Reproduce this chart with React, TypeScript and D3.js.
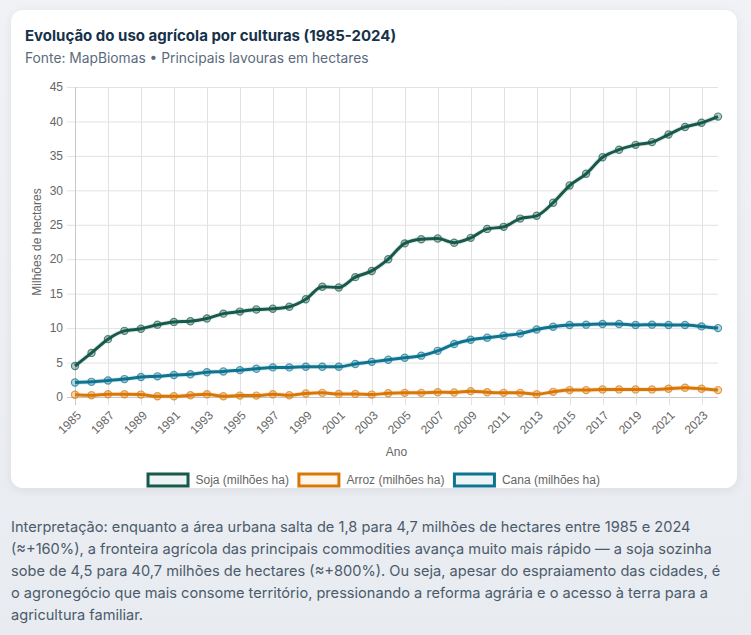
import React, { useEffect, useRef } from 'react';
import * as d3 from 'd3';

const anos = [
  1985, 1986, 1987, 1988, 1989, 1990, 1991, 1992, 1993, 1994,
  1995, 1996, 1997, 1998, 1999, 2000, 2001, 2002, 2003, 2004,
  2005, 2006, 2007, 2008, 2009, 2010, 2011, 2012, 2013, 2014,
  2015, 2016, 2017, 2018, 2019, 2020, 2021, 2022, 2023, 2024,
];

const soja = [
  4.5, 6.4, 8.4, 9.6, 9.9, 10.5, 10.9, 11.0, 11.4, 12.1,
  12.4, 12.7, 12.8, 13.1, 14.2, 16.0, 15.9, 17.4, 18.3, 20.0,
  22.3, 22.9, 23.0, 22.4, 23.1, 24.4, 24.7, 25.9, 26.3, 28.2,
  30.7, 32.4, 34.8, 35.9, 36.6, 37.0, 38.1, 39.2, 39.8, 40.7,
];

const arroz = [
  0.33, 0.25, 0.4, 0.4, 0.35, 0.1, 0.1, 0.25, 0.4, 0.1,
  0.2, 0.2, 0.4, 0.25, 0.5, 0.6, 0.45, 0.45, 0.35, 0.55,
  0.6, 0.6, 0.7, 0.65, 0.85, 0.7, 0.6, 0.6, 0.4, 0.75,
  1.0, 1.0, 1.1, 1.1, 1.1, 1.1, 1.2, 1.35, 1.2, 1.0,
];

const cana = [
  2.1, 2.2, 2.4, 2.6, 2.9, 3.0, 3.2, 3.3, 3.6, 3.7,
  3.9, 4.1, 4.3, 4.3, 4.4, 4.4, 4.4, 4.8, 5.1, 5.4,
  5.7, 6.0, 6.7, 7.7, 8.3, 8.6, 8.9, 9.2, 9.8, 10.2,
  10.45, 10.5, 10.6, 10.6, 10.45, 10.5, 10.45, 10.45, 10.25, 10.0,
];

const yTicks = [0, 5, 10, 15, 20, 25, 30, 35, 40, 45];
const xTicks = [
  1985, 1987, 1989, 1991, 1993, 1995, 1997, 1999, 2001, 2003,
  2005, 2007, 2009, 2011, 2013, 2015, 2017, 2019, 2021, 2023,
];

const series = [
  { nome: 'Soja (milhões ha)', valores: soja, cor: '#17594b', fundo: '#eef4f3' },
  { nome: 'Arroz (milhões ha)', valores: arroz, cor: '#d97706', fundo: '#fdf6ee' },
  { nome: 'Cana (milhões ha)', valores: cana, cor: '#0e7490', fundo: '#edf4f6' },
];

const titulo = 'Evolução do uso agrícola por culturas (1985-2024)';
const subtitulo = 'Fonte: MapBiomas • Principais lavouras em hectares';
const interpretacao = [
  'Interpretação: enquanto a área urbana salta de 1,8 para 4,7 milhões de hectares entre 1985 e 2024',
  '(≈+160%), a fronteira agrícola das principais commodities avança muito mais rápido — a soja sozinha',
  'sobe de 4,5 para 40,7 milhões de hectares (≈+800%). Ou seja, apesar do espraiamento das cidades, é',
  'o agronegócio que mais consome território, pressionando a reforma agrária e o acesso à terra para a',
  'agricultura familiar.',
];

const W = 751;
const H = 635;
const margem = { left: 75, right: 718, top: 87, bottom: 397 };
const fonteEixo = 'Liberation Sans, Arial, Helvetica, sans-serif';
const fonteUI = 'Inter, "Noto Sans", sans-serif';

export default function App() {
  const ref = useRef<SVGSVGElement>(null);

  useEffect(() => {
    const svg = d3.select(ref.current);
    svg.selectAll('*').remove();

    const defs = svg.append('defs');
    const grad = defs.append('linearGradient').attr('id', 'bg').attr('x1', 0).attr('y1', 0).attr('x2', 0).attr('y2', 1);
    grad.append('stop').attr('offset', '0%').attr('stop-color', '#f1f2f5');
    grad.append('stop').attr('offset', '100%').attr('stop-color', '#e8ebf0');
    defs.append('filter').attr('id', 'sombra').attr('x', -0.1).attr('y', -0.1).attr('width', 1.2).attr('height', 1.2)
      .append('feDropShadow').attr('dx', 0).attr('dy', 2).attr('stdDeviation', 5)
      .attr('flood-color', '#1e293b').attr('flood-opacity', 0.07);

    svg.append('rect').attr('width', W).attr('height', H).attr('fill', 'url(#bg)');
    svg.append('rect').attr('x', 11).attr('y', 10).attr('width', 726).attr('height', 478)
      .attr('rx', 12).attr('fill', '#ffffff').attr('filter', 'url(#sombra)');

    svg.append('text').attr('x', 25).attr('y', 41).text(titulo)
      .attr('font-family', fonteUI).attr('font-size', 15).attr('font-weight', 700).attr('fill', '#16324a');
    svg.append('text').attr('x', 25).attr('y', 63).text(subtitulo)
      .attr('font-family', fonteUI).attr('font-size', 13.8).attr('fill', '#5a6b7d');

    const x = d3.scaleLinear().domain([1985, 2024]).range([margem.left, margem.right]);
    const y = d3.scaleLinear().domain([0, 45]).range([margem.bottom, margem.top]);

    const g = svg.append('g');

    // grade
    g.selectAll('line.gy').data(yTicks).enter().append('line')
      .attr('x1', margem.left - 8).attr('x2', margem.right)
      .attr('y1', d => y(d) + 0.5).attr('y2', d => y(d) + 0.5)
      .attr('stroke', d => (d === 0 ? '#c8c8c8' : '#e2e2e2')).attr('stroke-width', 1);
    g.selectAll('line.gx').data(xTicks).enter().append('line')
      .attr('x1', d => Math.round(x(d)) + 0.5).attr('x2', d => Math.round(x(d)) + 0.5)
      .attr('y1', margem.top).attr('y2', margem.bottom + 8)
      .attr('stroke', d => (d === 1985 ? '#c8c8c8' : '#e2e2e2')).attr('stroke-width', 1);

    g.selectAll('text.ty').data(yTicks).enter().append('text')
      .attr('x', margem.left - 12).attr('y', d => y(d)).attr('dy', '0.35em')
      .attr('text-anchor', 'end').attr('font-family', fonteEixo).attr('font-size', 12).attr('fill', '#666')
      .text(d => String(d));

    g.selectAll('text.tx').data(xTicks).enter().append('text')
      .attr('transform', d => `translate(${x(d) + 4},${margem.bottom + 16}) rotate(-45)`)
      .attr('text-anchor', 'end').attr('dy', '0.35em')
      .attr('font-family', fonteEixo).attr('font-size', 12).attr('fill', '#666')
      .text(d => String(d));

    g.append('text').attr('x', (margem.left + margem.right) / 2).attr('y', 456)
      .attr('text-anchor', 'middle').attr('font-family', fonteEixo).attr('font-size', 12).attr('fill', '#666')
      .text('Ano');
    g.append('text').attr('transform', `translate(41,${(margem.top + margem.bottom) / 2}) rotate(-90)`)
      .attr('text-anchor', 'middle').attr('font-family', fonteEixo).attr('font-size', 12).attr('fill', '#666')
      .text('Milhões de hectares');

    const linha = d3.line<number>()
      .x((_, i) => x(anos[i]))
      .y(d => y(d))
      .curve(d3.curveMonotoneX);

    // Chart.js desenha a primeira série por cima
    series.slice().reverse().forEach(s => {
      const sg = g.append('g');
      sg.append('path').datum(s.valores).attr('d', linha)
        .attr('fill', 'none').attr('stroke', s.cor).attr('stroke-opacity', 0.12).attr('stroke-width', 5);
      sg.append('path').datum(s.valores).attr('d', linha)
        .attr('fill', 'none').attr('stroke', s.cor).attr('stroke-width', 3)
        .attr('stroke-linejoin', 'round');
      sg.selectAll('circle').data(s.valores).enter().append('circle')
        .attr('cx', (_, i) => x(anos[i])).attr('cy', d => y(d)).attr('r', 3.6)
        .attr('fill', s.cor).attr('fill-opacity', 0.3)
        .attr('stroke', s.cor).attr('stroke-opacity', 0.7).attr('stroke-width', 1.2);
    });

    // legenda
    const canvas = document.createElement('canvas');
    const ctx = canvas.getContext('2d');
    if (ctx) ctx.font = '12px ' + fonteEixo;
    const larguras = series.map(s => (ctx ? ctx.measureText(s.nome).width : s.nome.length * 6));
    const itens = larguras.map(w => 40 + 7.5 + w);
    const total = d3.sum(itens) + 10 * (itens.length - 1);
    let cx = 374 - total / 2;
    const leg = svg.append('g');
    series.forEach((s, i) => {
      leg.append('rect').attr('x', cx).attr('y', 474).attr('width', 40).attr('height', 12)
        .attr('fill', s.fundo).attr('stroke', s.cor).attr('stroke-width', 3);
      leg.append('text').attr('x', cx + 47.5).attr('y', 480).attr('dy', '0.35em')
        .attr('font-family', fonteEixo).attr('font-size', 12).attr('fill', '#666').text(s.nome);
      cx += itens[i] + 10;
    });

    const par = svg.append('g');
    interpretacao.forEach((l, i) => {
      par.append('text').attr('x', 11).attr('y', 532 + i * 22).text(l)
        .attr('font-family', fonteUI).attr('font-size', 14.6).attr('fill', '#4b5b6b');
    });
  }, []);

  return (
    <div style={{ position: 'fixed', left: 0, top: 0, width: W, height: H }}>
      <svg ref={ref} width={W} height={H} style={{ display: 'block' }} />
    </div>
  );
}
